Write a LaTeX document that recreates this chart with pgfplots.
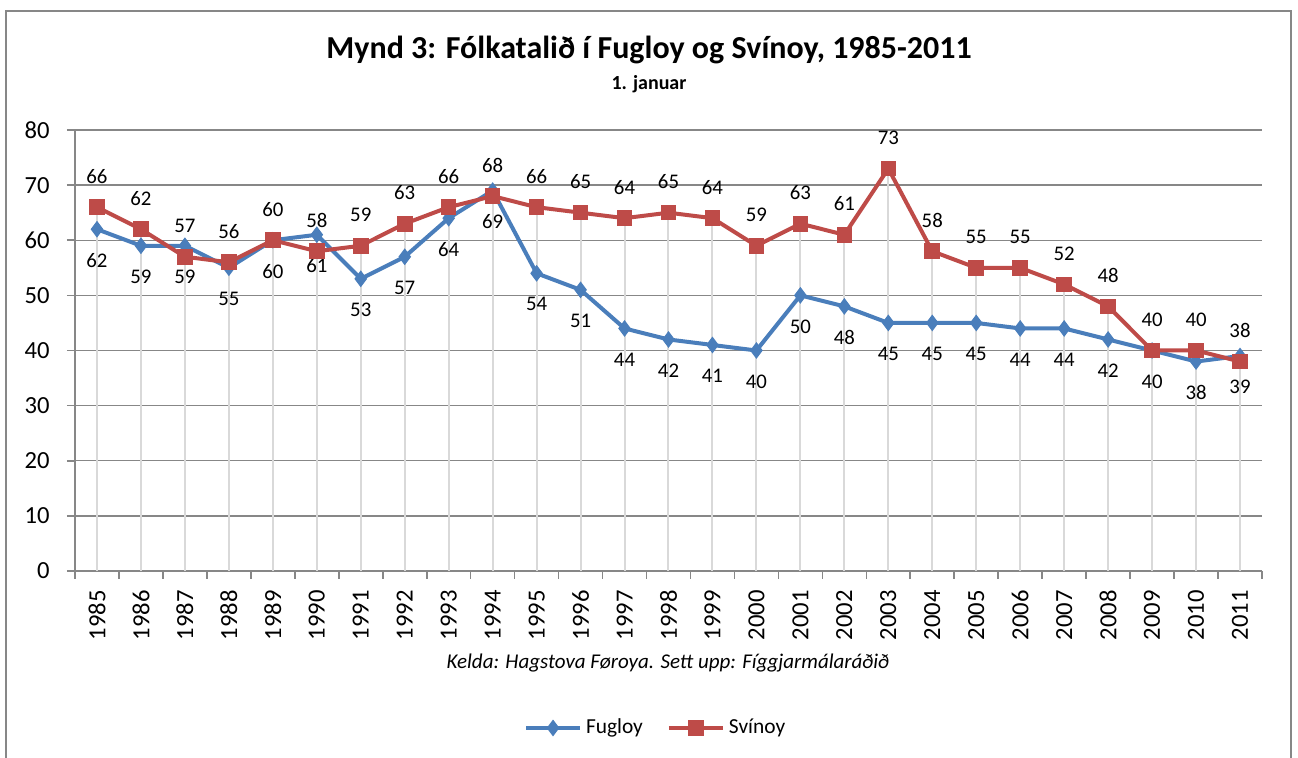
\documentclass[border=0pt]{standalone}
\usepackage{pgfplots}
\pgfplotsset{compat=1.18}
\usepackage{fontspec}
\setmainfont{Carlito}
\definecolor{fblue}{HTML}{4A7EBB}
\definecolor{sred}{HTML}{BE4B48}
\definecolor{gridc}{HTML}{878787}
\definecolor{dropc}{HTML}{D9D9D9}
\begin{document}
\begin{tikzpicture}
\useasboundingbox (0,0) rectangle (649pt,379pt);
\draw[gridc, line width=0.8pt] (3pt,0) -- (3pt,373.5pt) -- (645.5pt,373.5pt) -- (645.5pt,0);
\node[font=\fontsize{16}{19}\selectfont\bfseries] at (324.5pt,354pt) {Mynd 3: Fólkatalið í Fugloy og Svínoy, 1985-2011};
\node[font=\fontsize{10}{12}\selectfont\bfseries] at (324.5pt,337pt) {1. januar};
\node[font=\fontsize{10.5}{12}\selectfont\itshape] at (334pt,47.5pt) {Kelda: Hagstova Føroya. Sett upp: Fíggjarmálaráðið};
\begin{axis}[
  at={(37.5pt,93.5pt)}, anchor=south west,
  width=593.5pt, height=220.5pt, scale only axis,
  xmin=-0.5, xmax=26.5, ymin=0, ymax=80,
  clip=false,
  /pgf/number format/assume math mode=true,
  axis x line*=bottom, axis y line*=left,
  axis line style={gridc, line width=0.8pt, -},
  ymajorgrids, grid style={gridc, line width=0.7pt},
  ytick={0,10,...,80},
  tick align=outside, major tick length=4pt,
  tick style={gridc, line width=0.8pt},
  xtick={-0.5,0.5,...,26.5},
  xticklabel={\phantom{0}},
  extra x ticks={0,1,...,26},
  extra x tick labels={1985,1986,1987,1988,1989,1990,1991,1992,1993,1994,1995,1996,1997,1998,1999,2000,2001,2002,2003,2004,2005,2006,2007,2008,2009,2010,2011},
  extra x tick style={major tick length=0pt},
  xticklabel style={font=\fontsize{12.3}{14}\selectfont, rotate=90, anchor=east, inner sep=0pt},
  xticklabel shift=9.5pt,
  yticklabel style={font=\fontsize{12.3}{14}\selectfont, inner sep=0pt},
  yticklabel shift=8.5pt,
  legend style={at={(0.49,-0.356)}, anchor=center, draw=none, legend columns=2,
    font=\fontsize{10.7}{12}\selectfont,
    /tikz/every even column/.append style={column sep=10pt}},
  legend image code/.code={\draw[mark repeat=2,mark phase=2] plot coordinates {(0pt,0pt)(13.5pt,0pt)(27pt,0pt)};},
]
\addplot[ycomb, draw=dropc, line width=1pt, no markers, forget plot] coordinates {
(0,66)(1,62)(2,59)(3,56)(4,60)(5,61)(6,59)(7,63)(8,66)(9,69)(10,66)(11,65)(12,64)(13,65)(14,64)(15,59)(16,63)(17,61)(18,73)(19,58)(20,55)(21,55)(22,52)(23,48)(24,40)(25,40)(26,39)};
\addplot[fblue, line width=2pt, mark=diamond*, mark size=3.8pt, mark options={fill=fblue, draw=fblue, line width=0.5pt},
  nodes near coords, every node near coord/.append style={anchor=center, yshift=-15.5pt, text=black, font=\fontsize{10.4}{12}\selectfont}]
coordinates {
(0,62)(1,59)(2,59)(3,55)(4,60)(5,61)(6,53)(7,57)(8,64)(9,69)(10,54)(11,51)(12,44)(13,42)(14,41)(15,40)(16,50)(17,48)(18,45)(19,45)(20,45)(21,44)(22,44)(23,42)(24,40)(25,38)(26,39)};
\addlegendentry{Fugloy}
\addplot[sred, line width=2pt, mark=square*, mark size=3.5pt, mark options={fill=sred, draw=sred, line width=0.8pt},
  nodes near coords, every node near coord/.append style={anchor=center, yshift=15.5pt, text=black, font=\fontsize{10.4}{12}\selectfont}]
coordinates {
(0,66)(1,62)(2,57)(3,56)(4,60)(5,58)(6,59)(7,63)(8,66)(9,68)(10,66)(11,65)(12,64)(13,65)(14,64)(15,59)(16,63)(17,61)(18,73)(19,58)(20,55)(21,55)(22,52)(23,48)(24,40)(25,40)(26,38)};
\addlegendentry{Svínoy}
\end{axis}
\end{tikzpicture}
\end{document}
